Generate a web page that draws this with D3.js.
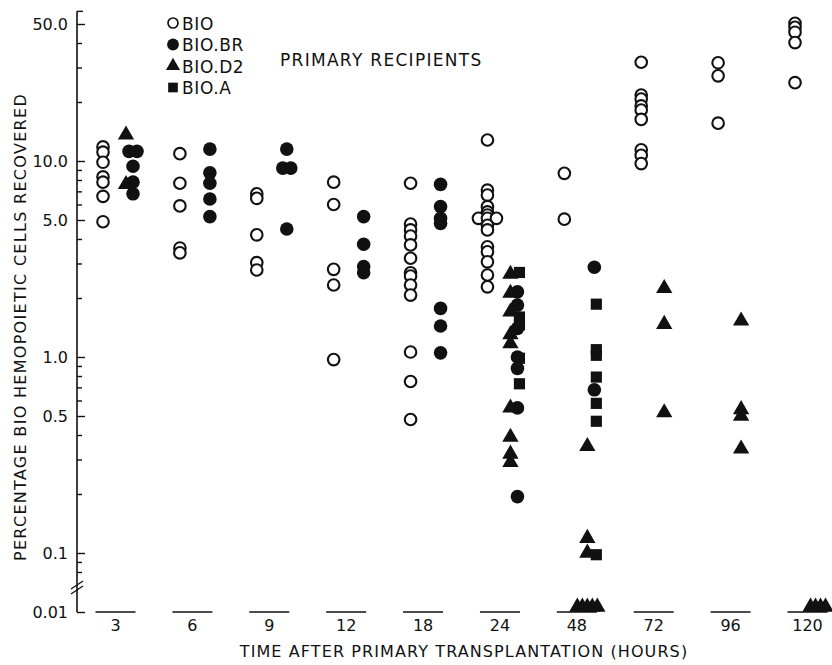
<!DOCTYPE html>
<html>
<head>
<meta charset="utf-8">
<script src="https://cdn.jsdelivr.net/npm/d3@7"></script>
<style>
  body { margin: 0; background: #fff; }
  text { font-family: "DejaVu Sans", sans-serif; fill: #111; }
</style>
</head>
<body>
<svg width="832" height="665"></svg>
<script>
// ---- data ----
const times = ["3", "6", "9", "12", "18", "24", "48", "72", "96", "120"];
const strains = ["BIO", "BIO.BR", "BIO.D2", "BIO.A"];

// one list per time point, percentage recovered
const b10 = [
  [11.8, 11.1, 9.85, 8.3, 7.8, 6.6, 4.9],
  [10.9, 7.7, 5.9, 3.6, 3.4],
  [6.8, 6.45, 4.2, 3.03, 2.78],
  [7.8, 6.0, 2.8, 2.33, 0.97],
  [7.7, 4.77, 4.45, 4.14, 3.73, 3.19, 2.69, 2.59, 2.33, 2.07, 1.06, 0.75, 0.48],
  [12.8, 7.1, 6.7, 5.85, 5.5, 5.3, 5.1, 5.1, 5.1, 4.7, 4.45, 3.65, 3.44, 3.06, 2.62, 2.28],
  [8.65, 5.05],
  [31.9, 21.7, 20.7, 19.1, 18.2, 16.3, 11.4, 10.7, 9.7],
  [31.7, 27.2, 15.6],
  [50.4, 48.1, 45.4, 40.2, 25.1]
];
const b10br = [
  [11.2, 11.2, 9.4, 7.8, 6.8],
  [11.5, 8.7, 7.7, 6.4, 5.2],
  [11.5, 9.2, 9.2, 4.5],
  [5.2, 3.76, 2.89, 2.69],
  [7.6, 5.85, 5.1, 4.8, 1.77, 1.44, 1.05],
  [2.15, 1.84, 1.4, 1.0, 0.875, 0.55, 0.194],
  [2.87, 0.68],
  [], [], []
];
const b10d2 = [
  [13.6, 7.6],
  [], [], [], [],
  [2.65, 2.12, 1.7, 1.3, 1.17, 0.55, 0.39, 0.32, 0.29],
  [0.35, 0.119, 0.1, 0.01, 0.01, 0.01, 0.01, 0.01],
  [2.24, 1.47, 0.52],
  [1.53, 0.54, 0.5, 0.34],
  [0.01, 0.01, 0.01, 0.01]
];
const b10a = [
  [], [], [], [], [],
  [2.7, 1.6, 1.46, 0.985, 0.73],
  [1.86, 1.09, 1.02, 0.79, 0.58, 0.47, 0.098],
  [], [], []
];

const yMajor = [0.1, 0.5, 1, 5, 10, 50];
const yMinor = [0.08, 0.09, 0.2, 0.3, 0.4, 0.6, 0.7, 0.8, 0.9, 2, 3, 4, 6, 7, 8, 9, 20, 30, 40];
const yFloor = [0.01];
const yTop = 58;

// ---- scales ----
const svg = d3.select("svg");
const x = d3.scalePoint().domain(times).range([115, 807]);
const y = d3.scaleLog().domain([1, 10]).range([357, 161]);
const yLow = d3.scaleOrdinal().domain(yFloor).range([612]);
const axisX = 77;

function yPos(v) {
  return v <= yFloor[0] ? yLow(yFloor[0]) - 5 : y(v);
}

const series = [
  { name: strains[0], vals: b10, type: d3.symbolCircle, size: 105, fill: "#fff", stroke: "#111", sw: 2.1, dx: -12, spread: 9 },
  { name: strains[1], vals: b10br, type: d3.symbolCircle, size: 145, fill: "#111", stroke: "none", sw: 0, dx: 18, spread: 8 },
  { name: strains[2], vals: b10d2, type: d3.symbolTriangle, size: 115, fill: "#111", stroke: "none", sw: 0, dx: 11, spread: 5 },
  { name: strains[3], vals: b10a, type: d3.symbolSquare, size: 125, fill: "#111", stroke: "none", sw: 0, dx: 20, spread: 8 }
];

// build points, nudging near-identical values sideways
const points = [];
series.forEach(s => {
  s.vals.forEach((vals, i) => {
    const t = times[i];
    const sorted = vals.slice().sort((a, b) => b - a);
    const groups = [];
    sorted.forEach(v => {
      const py = yPos(v);
      const g = groups[groups.length - 1];
      if (g && Math.abs(g[g.length - 1].py - py) < 2.5) g.push({ v, py });
      else groups.push([{ v, py }]);
    });
    groups.forEach(g => g.forEach((p, j) => {
      points.push({ s, t, v: p.v, py: p.py, px: x(t) + s.dx + (j - (g.length - 1) / 2) * s.spread });
    }));
  });
});

// ---- y axis ----
const gy = svg.append("g").attr("transform", `translate(${axisX},0)`);
gy.append("line")
  .attr("x1", 0).attr("x2", 0)
  .attr("y1", y(yTop)).attr("y2", yLow(yFloor[0]))
  .attr("stroke", "#111").attr("stroke-width", 1.6);
gy.append("line")
  .attr("x1", 0).attr("x2", 6)
  .attr("y1", y(yTop)).attr("y2", y(yTop))
  .attr("stroke", "#111").attr("stroke-width", 1.4);

gy.append("g").call(d3.axisLeft(y).tickValues(yMajor).tickSizeInner(-8).tickSizeOuter(0).tickPadding(9).tickFormat(d3.format(".1f")));
gy.append("g").call(d3.axisLeft(y).tickValues(yMinor).tickSizeInner(-5).tickSizeOuter(0).tickFormat(""));
gy.append("g").call(d3.axisLeft(yLow).tickSizeInner(-8).tickSizeOuter(0).tickPadding(9).tickFormat(d3.format(".2f")));
gy.selectAll(".domain").remove();
gy.selectAll(".tick line").attr("stroke", "#111").attr("stroke-width", 1.4);
gy.selectAll(".tick text").attr("font-size", 16).attr("font-family", "DejaVu Sans").attr("fill", "#111");

// axis break
const yb = y(0.08) + 13;
[0, 5].forEach(o => {
  gy.append("line")
    .attr("x1", -6).attr("x2", 6)
    .attr("y1", yb + o + 4).attr("y2", yb + o - 4)
    .attr("stroke", "#111").attr("stroke-width", 1.4);
});

// ---- x axis: short baseline under each time group ----
const gx = svg.append("g").attr("transform", `translate(0,${yLow(yFloor[0])})`);
gx.call(d3.axisBottom(x).tickSize(0).tickPadding(8));
gx.select(".domain").remove();
gx.selectAll(".tick").append("line")
  .attr("x1", -20).attr("x2", 20)
  .attr("stroke", "#111").attr("stroke-width", 1.6);
gx.selectAll(".tick text").attr("font-size", 16).attr("font-family", "DejaVu Sans").attr("fill", "#111");

// ---- axis titles ----
svg.append("text")
  .attr("x", 464).attr("y", 657)
  .attr("text-anchor", "middle")
  .attr("font-size", 16)
  .attr("letter-spacing", 1.1)
  .text("TIME AFTER PRIMARY TRANSPLANTATION (HOURS)");

svg.append("text")
  .attr("transform", "translate(26,327) rotate(-90)")
  .attr("text-anchor", "middle")
  .attr("font-size", 16)
  .attr("letter-spacing", 1.3)
  .text("PERCENTAGE BIO HEMOPOIETIC CELLS RECOVERED");

// ---- points ----
svg.append("g").selectAll("path")
  .data(points)
  .join("path")
  .attr("d", d => d3.symbol().type(d.s.type).size(d.s.size)())
  .attr("transform", d => `translate(${d.px},${d.py})`)
  .attr("fill", d => d.s.fill)
  .attr("stroke", d => d.s.stroke)
  .attr("stroke-width", d => d.s.sw);

// ---- legend ----
const lg = svg.append("g").attr("transform", "translate(173,23)");
const rows = lg.selectAll("g").data(series).join("g")
  .attr("transform", (d, i) => `translate(0,${i * 21.5})`);
rows.append("path")
  .attr("d", d => d3.symbol().type(d.type).size(d.size * 0.75)())
  .attr("fill", d => d.fill)
  .attr("stroke", d => d.stroke)
  .attr("stroke-width", d => d.sw * 0.8);
rows.append("text")
  .attr("x", 9).attr("y", 6.5)
  .attr("font-size", 17)
  .attr("letter-spacing", 0.6)
  .text(d => d.name);

svg.append("text")
  .attr("x", 280).attr("y", 66)
  .attr("font-size", 17)
  .attr("letter-spacing", 1.3)
  .text("PRIMARY RECIPIENTS");
</script>
</body>
</html>
